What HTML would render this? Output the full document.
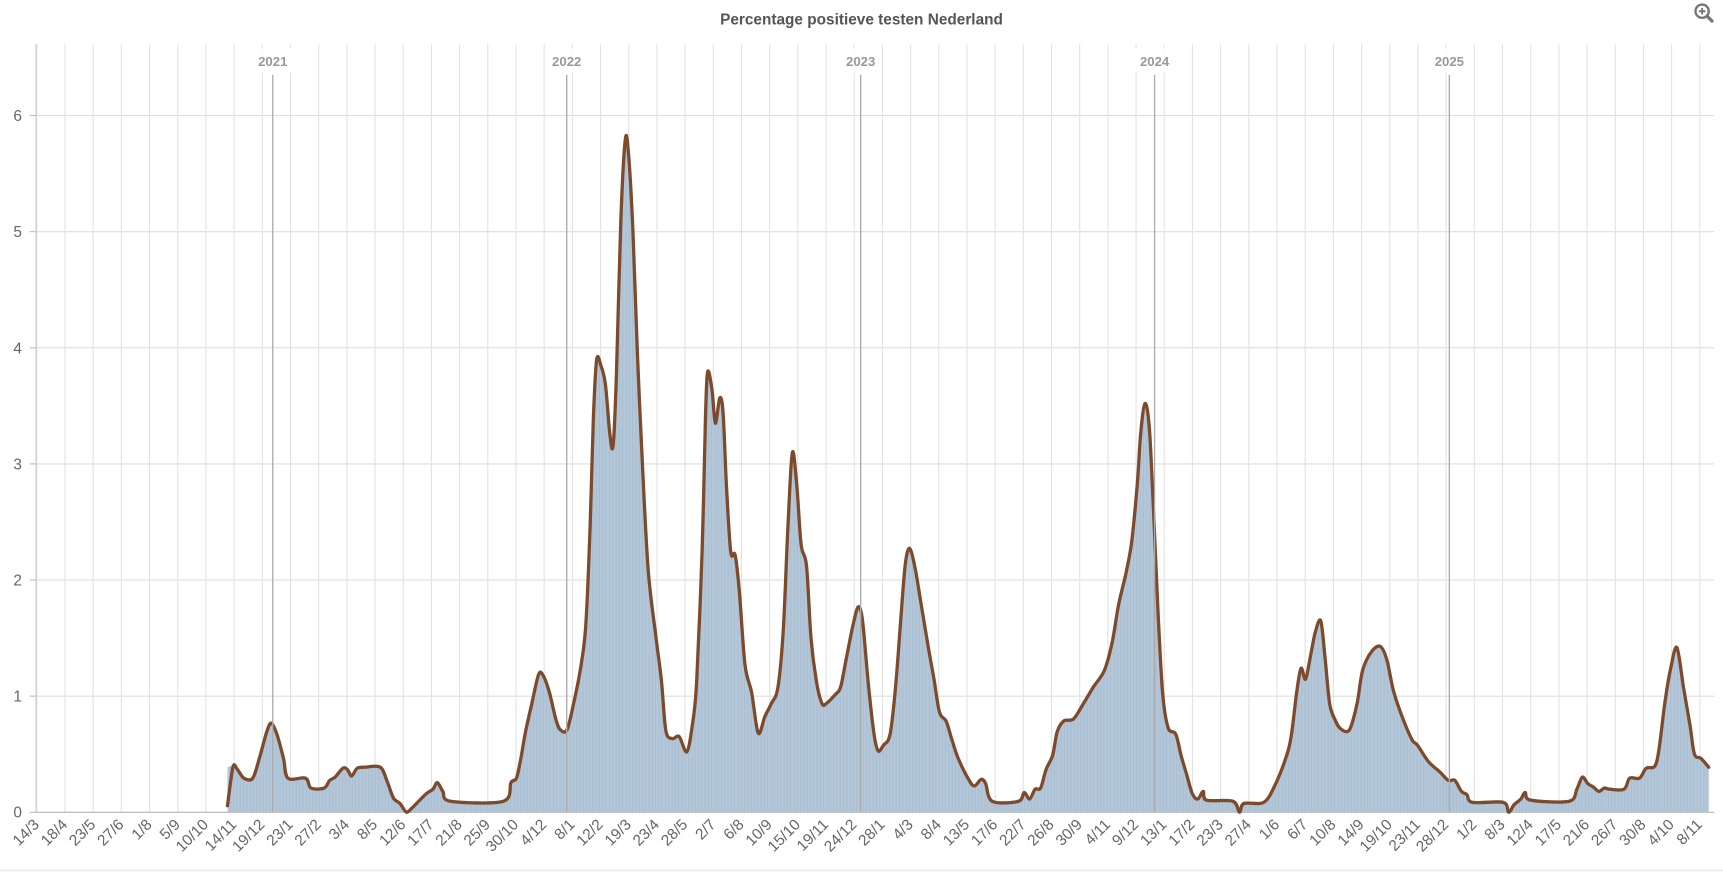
<!DOCTYPE html>
<html><head><meta charset="utf-8"><style>
html,body{margin:0;padding:0;background:#fff;width:1723px;height:874px;overflow:hidden}
svg{display:block}
text{font-family:"Liberation Sans",Arial,sans-serif}
</style></head><body>
<svg id="c" width="1723" height="874" viewBox="0 0 1568 795" xmlns="http://www.w3.org/2000/svg">
<defs>
<pattern id="bars" width="3" height="10" patternUnits="userSpaceOnUse">
<rect width="3" height="10" fill="#b3c7d9"/><rect x="2.3" width="0.7" height="10" fill="#a6bccf"/>
</pattern>
</defs>
<text x="784" y="22" text-anchor="middle" font-size="14" font-weight="bold" fill="#555">Percentage positieve testen Nederland</text>
<g fill="none" stroke="#777" stroke-width="2.2">
<circle cx="1549" cy="10" r="6"/><line x1="1553.5" y1="14.5" x2="1558" y2="19" stroke-width="3" stroke-linecap="round"/>
<line x1="1546" y1="10" x2="1552" y2="10" stroke-width="1.8"/><line x1="1549" y1="7" x2="1549" y2="13" stroke-width="1.8"/>
</g>
<g id="grid"></g>
<g id="data"></g>
<g id="years"></g>
<g id="labels"></g>
<line x1="0" y1="792" x2="1568" y2="792" stroke="#eee" stroke-width="2"/>
</svg>
<script>
var NS="http://www.w3.org/2000/svg";
function el(p,t,a,txt){var e=document.createElementNS(NS,t);for(var k in a)e.setAttribute(k,a[k]);if(txt!==undefined)e.textContent=txt;p.appendChild(e);return e;}
var g=document.getElementById('grid'),lab=document.getElementById('labels'),yr=document.getElementById('years'),dat=document.getElementById('data');
var L=33,R=1560,B=739,U=105.67;
for(var k=0;k<=6;k++){var y=B-U*k;
 if(k>0)el(g,'line',{x1:L,x2:R,y1:y,y2:y,stroke:'#dedede','stroke-width':1});
 el(g,'text',{x:20,y:y+5,'font-size':14,fill:'#666','text-anchor':'end'},k);
 el(g,'line',{x1:L-6,x2:L,y1:y,y2:y,stroke:'#bbb','stroke-width':1});
}
el(g,'line',{x1:L,x2:L,y1:40,y2:B,stroke:'#aaa','stroke-width':1});
var base=Date.UTC(2020,2,14), ppd=267.5/365, x0=33.5;
function xOf(t){return x0+(t-base)/864e5*ppd;}
for(var t=base;xOf(t)<R;t+=35*864e5){
 var x=xOf(t),d=new Date(t);
 el(g,'line',{x1:x,x2:x,y1:40,y2:B,stroke:'#e2e2e2','stroke-width':1});
 var s=d.getUTCDate()+'/'+(d.getUTCMonth()+1);
 el(lab,'text',{x:x+3,y:B+12,'font-size':14,fill:'#666','text-anchor':'end',transform:'rotate(-45 '+(x+3)+' '+(B+12)+')'},s);
}
[2021,2022,2023,2024,2025].forEach(function(Y){var x=xOf(Date.UTC(Y,0,1));
 el(yr,'line',{x1:x,x2:x,y1:68,y2:B,stroke:'#aaa','stroke-width':1.2});
 el(yr,'rect',{x:x-18,y:44,width:36,height:22,fill:'#fff',opacity:0.9});
 el(yr,'text',{x:x,y:60,'font-size':12,'font-weight':'bold',fill:'#999','text-anchor':'middle'},Y);
});
el(g,'line',{x1:L,x2:R,y1:B,y2:B,stroke:'#aaa','stroke-width':1});
var P=[[207,733],[212,698],[216,700],[222,708],[230,708],[236,690],[243,665],[247,658],[252,668],[258,690],[262,708],[278,708],[283,717],[295,717],[300,710],[305,707],[312,699],[316,700],[320,706],[325,699],[332,698],[346,698],[352,710],[358,726],[364,731],[370,739],[375,735],[380,730],[388,722],[394,718],[398,712],[403,720],[410,729],[458,729],[465,712],[470,708],[474,690],[478,667],[484,640],[490,614],[494,614],[500,630],[506,655],[510,664],[516,664],[522,640],[528,610],[533,570],[537,480],[540,380],[543,327],[547,333],[551,350],[555,395],[558,405],[561,340],[565,200],[569,127],[572,140],[576,210],[580,320],[585,430],[590,520],[597,580],[602,620],[606,665],[612,672],[618,670],[625,684],[630,660],[634,620],[639,500],[642,380],[644,338],[648,355],[651,385],[655,362],[658,375],[661,440],[665,502],[669,505],[673,540],[678,605],[684,630],[690,667],[696,652],[702,640],[708,625],[713,570],[717,480],[721,412],[725,440],[729,495],[734,515],[738,580],[743,620],[748,640],[752,640],[760,632],[765,625],[770,600],[776,570],[781,552],[785,565],[790,620],[795,665],[799,683],[804,678],[810,668],[815,625],[820,560],[824,512],[828,499],[833,518],[838,548],[845,590],[850,618],[855,648],[861,656],[866,672],[872,690],[882,710],[887,715],[893,709],[897,713],[903,729],[927,729],[932,721],[937,727],[942,718],[947,717],[952,700],[958,687],[962,666],[968,656],[977,654],[986,640],[995,625],[1005,610],[1012,585],[1018,550],[1025,520],[1030,492],[1035,440],[1038,395],[1042,367],[1046,390],[1050,470],[1054,560],[1058,630],[1063,662],[1070,668],[1075,688],[1080,705],[1085,722],[1090,727],[1095,720],[1098,728],[1122,729],[1128,739],[1132,731],[1150,730],[1160,715],[1170,690],[1175,670],[1180,630],[1184,608],[1188,618],[1192,600],[1197,575],[1202,565],[1206,600],[1210,640],[1215,655],[1220,663],[1228,664],[1235,640],[1240,610],[1248,593],[1256,588],[1262,600],[1268,628],[1276,652],[1285,673],[1290,678],[1300,693],[1310,702],[1318,710],[1324,710],[1330,720],[1335,723],[1340,730],[1368,730],[1373,739],[1378,732],[1384,727],[1388,721],[1393,728],[1428,729],[1435,718],[1440,707],[1445,713],[1450,716],[1455,720],[1460,717],[1465,718],[1478,718],[1483,708],[1492,708],[1498,699],[1506,697],[1510,680],[1515,640],[1520,610],[1526,589],[1532,625],[1538,660],[1542,686],[1548,690],[1555,698]];
function smooth(pts){var d='M'+pts[0][0]+' '+pts[0][1];
 for(var i=0;i<pts.length-1;i++){var p0=pts[i-1]||pts[i],p1=pts[i],p2=pts[i+1],p3=pts[i+2]||p2,tn=0.16;
  var c1x=p1[0]+(p2[0]-p0[0])*tn,c1y=p1[1]+(p2[1]-p0[1])*tn,c2x=p2[0]-(p3[0]-p1[0])*tn,c2y=p2[1]-(p3[1]-p1[1])*tn;
  c1y=Math.min(c1y,B);c2y=Math.min(c2y,B);
  d+=' C'+c1x.toFixed(1)+' '+c1y.toFixed(1)+' '+c2x.toFixed(1)+' '+c2y.toFixed(1)+' '+p2[0]+' '+p2[1];}
 return d;}
var line=smooth(P);
var AP=[[207,698]].concat(P.slice(1).map(function(p){return [p[0],p[1]-1.5];}));
var area=smooth(AP)+' L1555 '+B+' L207 '+B+' Z';
el(dat,'path',{d:area,fill:'url(#bars)'});
el(dat,'path',{d:line,fill:'none',stroke:'#7e4a2c','stroke-width':3,'stroke-linejoin':'round','stroke-linecap':'round'});
</script>
</body></html>
